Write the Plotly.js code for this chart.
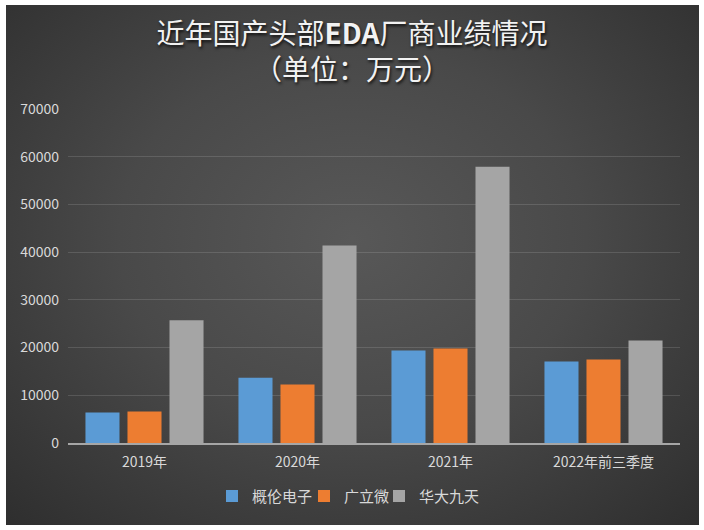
<!DOCTYPE html>
<html>
<head>
<meta charset="utf-8">
<script src="https://cdn.plot.ly/plotly-3.0.1.min.js"></script>
<style>
  html, body { margin: 0; padding: 0; background: #ffffff; }
  #wrap { position: relative; width: 704px; height: 530px; }
  #frame { position: absolute; left: 6px; top: 5px; width: 693px; height: 520px;
    background: radial-gradient(ellipse 75% 80% at 50% 45%, #585858 0%, #494949 45%, #2c2c2c 100%); }
  #chart { position: absolute; left: 0; top: 0; width: 704px; height: 530px; }
</style>
</head>
<body>
<div id="wrap">
  <div id="frame"></div>
  <div id="chart"></div>
</div>
<script>
const categories = ['2019年', '2020年', '2021年', '2022年前三季度'];
const seriesNames = ['概伦电子', '广立微', '华大九天'];
const gailun = [6400, 13700, 19400, 17100];
const guangliwei = [6600, 12250, 19800, 17500];
const huada = [25700, 41400, 57900, 21500];
const yTicks = [0, 10000, 20000, 30000, 40000, 50000, 60000, 70000];
const colors = ['#5b9bd5', '#ed7d31', '#a5a5a5'];

const values = [gailun, guangliwei, huada];
const legendIds = ['legend', 'legend2', 'legend3'];
const traces = values.map((v, i) => ({
  type: 'bar',
  name: seriesNames[i],
  x: categories,
  y: v,
  legend: legendIds[i],
  marker: { color: colors[i], line: { width: 0 } },
  hoverinfo: 'x+y+name'
}));

const W = 704, ML = 68, MR = 24;
const PW = W - ML - MR;
const px2paper = p => (p - ML) / PW;
const legendLeftPx = [212, 304, 379];

const fontFam = '"Noto Sans CJK SC", "Noto Sans", sans-serif';
const layout = {
  width: 704,
  height: 530,
  paper_bgcolor: 'rgba(0,0,0,0)',
  plot_bgcolor: 'rgba(0,0,0,0)',
  margin: { l: ML, r: MR, t: 109, b: 86.5 },
  barmode: 'group',
  bargap: 0.176,
  bargroupgap: 0.19,
  font: { family: fontFam, color: '#d9d9d9', size: 14 },
  title: {
    text: '近年国产头部<b>EDA</b>厂商业绩情况<br>（单位：万元）',
    font: { family: fontFam, size: 28, color: '#f2f2f2', shadow: '1px 2px 3px rgba(0,0,0,0.8)' },
    x: 352 / 704, xanchor: 'center', xref: 'container',
    y: 1 - 44 / 530, yanchor: 'middle', yref: 'container'
  },
  xaxis: {
    type: 'category',
    showgrid: false,
    showline: true,
    linecolor: '#a6a6a6',
    linewidth: 2,
    ticks: '',
    ticklabelstandoff: 5,
    tickfont: { size: 14, color: '#d9d9d9' },
    zeroline: false
  },
  yaxis: {
    range: [0, 70000],
    tickvals: yTicks,
    ticktext: yTicks.map(String),
    showgrid: true,
    gridcolor: 'rgba(255,255,255,0.13)',
    gridwidth: 1,
    zeroline: false,
    showline: false,
    ticks: '',
    ticklabelstandoff: 8,
    tickfont: { size: 14, color: '#d9d9d9' }
  },
  showlegend: true
};
legendIds.forEach((id, i) => {
  layout[id] = {
    orientation: 'h',
    x: px2paper(legendLeftPx[i]), xanchor: 'left',
    y: -0.11, yanchor: 'top',
    font: { size: 15, color: '#d9d9d9' },
    itemwidth: 30,
    bgcolor: 'rgba(0,0,0,0)'
  };
});

Plotly.newPlot('chart', traces, layout, { displayModeBar: false, responsive: false });
</script>
</body>
</html>
